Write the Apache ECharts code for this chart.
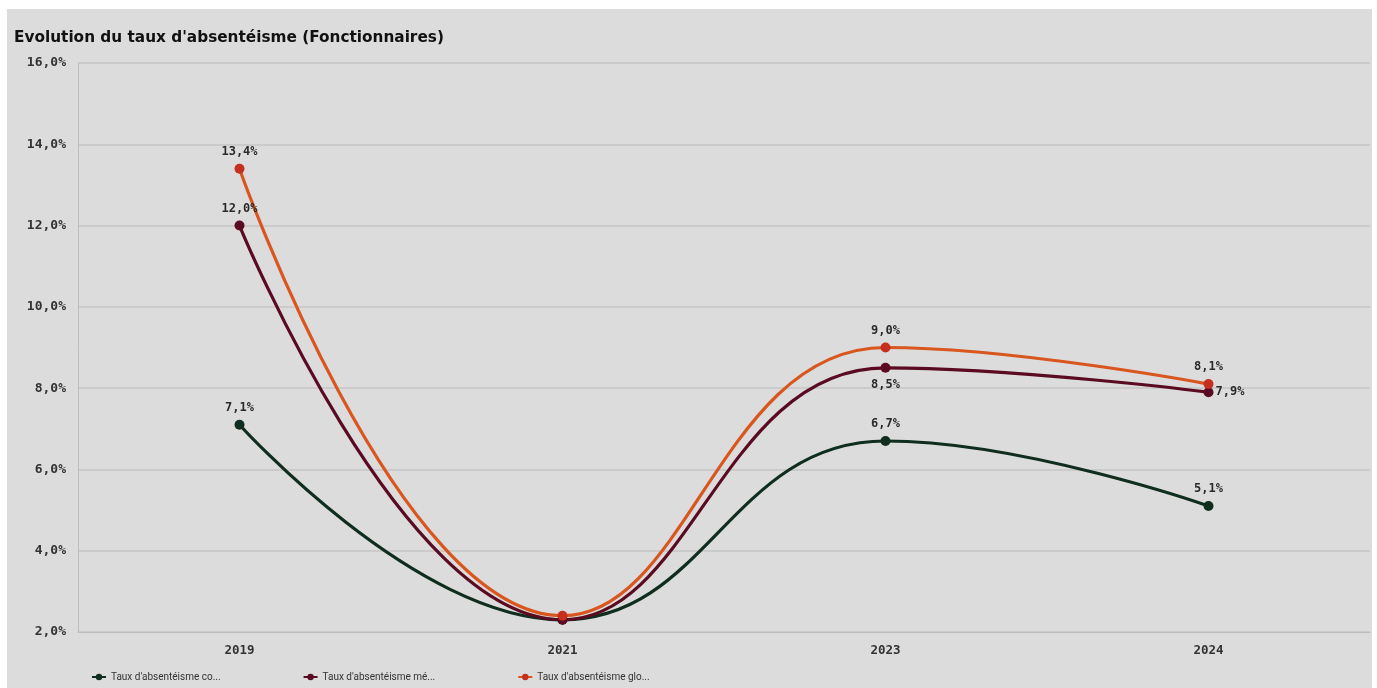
<!DOCTYPE html>
<html>
<head>
<meta charset="utf-8">
<script src="https://cdn.jsdelivr.net/npm/echarts@6/dist/echarts.min.js"></script>
<style>
  html, body { margin: 0; padding: 0; background: #ffffff; }
  #panel { position: absolute; left: 7px; top: 9px; width: 1365px; height: 679px; background: #dcdcdc; }
</style>
</head>
<body>
<div id="panel"></div>
<script>
// Absenteeism rates (%) per year
const years = ['2019', '2021', '2023', '2024'];
const seriesNames = [
  "Taux d'absentéisme court",
  "Taux d'absentéisme médical",
  "Taux d'absentéisme global"
];
const rateCourt = [7.1, 2.3, 6.7, 5.1];
const rateMedical = [12.0, 2.3, 8.5, 7.9];
const rateGlobal = [13.4, 2.4, 9.0, 8.1];
const yTicks = [2, 4, 6, 8, 10, 12, 14, 16];

// label placement per point ('' = hidden)
const posCourt = ['top', '', 'top', 'top'];
const posMedical = ['top', '', 'bottom', 'right'];
const posGlobal = ['top', '', 'top', 'top'];

const fmtPct = v => v.toFixed(1).replace('.', ',') + '%';
const monoFont = '"DejaVu Sans Mono", "Liberation Mono", monospace';

function buildData(values, positions) {
  return values.map((v, i) => ({
    value: v,
    label: positions[i]
      ? { show: true, position: positions[i], distance: positions[i] === 'right' ? 2 : 6 }
      : { show: false }
  }));
}

function lineSeries(name, values, positions, lineColor, pointColor) {
  return {
    name: name,
    type: 'line',
    smooth: 0.45,
    symbol: 'circle',
    symbolSize: 10,
    lineStyle: { width: 3.2, color: lineColor },
    itemStyle: { color: pointColor },
    label: {
      formatter: p => fmtPct(p.value),
      fontFamily: monoFont,
      fontWeight: 'bold',
      fontSize: 12,
      color: '#2a2a2a'
    },
    data: buildData(values, positions)
  };
}

const chart = echarts.init(document.getElementById('panel'));
chart.setOption({
  animation: false,
  backgroundColor: 'transparent',
  color: ['#0f2e1e', '#5a0b22', '#d9561f'],
  title: {
    text: "Evolution du taux d'absentéisme (Fonctionnaires)",
    left: 2,
    top: 17,
    textStyle: { fontFamily: '"DejaVu Sans", sans-serif', fontWeight: 'bold', fontSize: 15.3, color: '#111111' }
  },
  legend: {
    left: 79,
    top: 658,
    itemGap: 82,
    itemWidth: 14,
    itemHeight: 8,
    textStyle: {
      fontFamily: 'Roboto, "Liberation Sans", Arial, sans-serif',
      fontSize: 10,
      color: '#333333',
      width: 115,
      overflow: 'truncate',
      ellipsis: '...'
    }
  },
  grid: { left: 71, right: 2, top: 54, bottom: 56 },
  xAxis: {
    type: 'category',
    data: years,
    boundaryGap: true,
    axisLine: { lineStyle: { color: '#bdbdbd', width: 1 } },
    axisTick: { show: false },
    axisLabel: { margin: 12, fontFamily: monoFont, fontWeight: 'bold', fontSize: 12.5, color: '#333333' }
  },
  yAxis: {
    type: 'value',
    min: yTicks[0],
    max: yTicks[yTicks.length - 1],
    interval: 2,
    axisLine: { show: true, lineStyle: { color: '#bdbdbd' } },
    axisTick: { show: false },
    splitLine: { lineStyle: { color: '#c6c6c6', width: 1.5 } },
    axisLabel: { margin: 12, formatter: v => fmtPct(v), fontFamily: monoFont, fontWeight: 'bold', fontSize: 13, color: '#333333' }
  },
  series: [
    lineSeries(seriesNames[0], rateCourt, posCourt, '#0f2e1e', '#0f2e1e'),
    lineSeries(seriesNames[1], rateMedical, posMedical, '#5a0b22', '#5a0b22'),
    lineSeries(seriesNames[2], rateGlobal, posGlobal, '#d9561f', '#c4301d')
  ]
});
</script>
</body>
</html>
